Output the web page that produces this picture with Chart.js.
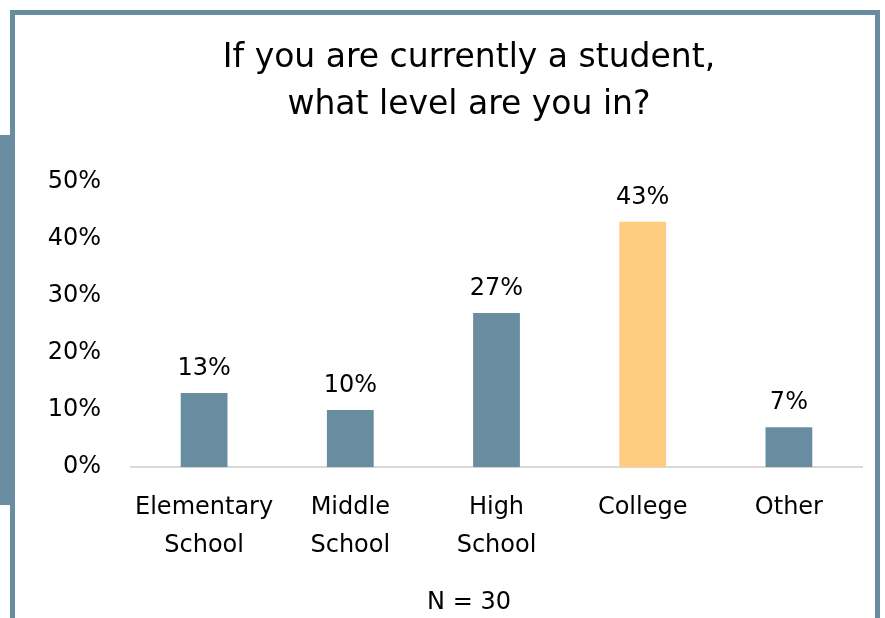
<!DOCTYPE html>
<html>
<head>
<meta charset="utf-8">
<script src="https://cdn.jsdelivr.net/npm/chart.js@4/dist/chart.umd.min.js"></script>
<style>
  html, body { margin: 0; padding: 0; background: #ffffff; overflow: hidden; }
  #wrap { position: relative; width: 885px; height: 618px; overflow: hidden; }
  .frame { position: absolute; background: #6a8ca0; z-index: 2; }
  #chart { position: absolute; left: 0; top: 0; z-index: 1; }
</style>
</head>
<body>
<div id="wrap">
  <div class="frame" style="left:10px; top:10px; width:870px; height:5px;"></div>
  <div class="frame" style="left:10px; top:10px; width:5px; height:608px;"></div>
  <div class="frame" style="left:875px; top:10px; width:5px; height:608px;"></div>
  <div class="frame" style="left:0px; top:135px; width:15px; height:370px;"></div>
  <canvas id="chart" width="898" height="618"></canvas>
</div>
<script>
// Survey: current level of students (N = 30)
const categories = [["Elementary", "School"], ["Middle", "School"], ["High", "School"], "College", "Other"];
const shares = [13, 10, 27, 43, 7];
const barColors = ["#688ca0", "#688ca0", "#688ca0", "#ffcd7f", "#688ca0"];
const titleLines = ["If you are currently a student,", "what level are you in?"];
const sampleNote = "N = 30";
const axisMax = 50;
const axisStep = 10;

const FONT = "'DejaVu Sans', sans-serif";

// Percentage labels above each bar
const valueLabels = {
  id: "valueLabels",
  afterDatasetsDraw(chart) {
    const ctx = chart.ctx;
    const meta = chart.getDatasetMeta(0);
    ctx.save();
    ctx.font = "24px " + FONT;
    ctx.fillStyle = "#000000";
    ctx.textAlign = "center";
    ctx.textBaseline = "alphabetic";
    meta.data.forEach((bar, i) => {
      const v = chart.data.datasets[0].data[i];
      ctx.fillText(Math.round(v) + "%", bar.x, bar.y - 18);
    });
    ctx.restore();
  }
};

new Chart(document.getElementById("chart"), {
  type: "bar",
  data: {
    labels: categories,
    datasets: [{
      data: shares,
      backgroundColor: barColors,
      borderWidth: 0,
      barPercentage: 0.32,
      categoryPercentage: 1.0
    }]
  },
  options: {
    responsive: false,
    animation: false,
    layout: { padding: { left: 40, right: 0, top: 0, bottom: 0 } },
    plugins: {
      legend: { display: false },
      tooltip: { enabled: false },
      title: {
        display: true,
        text: titleLines,
        color: "#000000",
        font: { family: FONT, size: 33, weight: "normal", lineHeight: 1.45 },
        padding: { top: 34, bottom: 52 }
      },
      subtitle: {
        display: true,
        position: "bottom",
        text: sampleNote,
        color: "#000000",
        font: { family: FONT, size: 24, weight: "normal", lineHeight: 1.2 },
        padding: { top: 0, bottom: 1 }
      }
    },
    scales: {
      x: {
        grid: { display: false, drawTicks: false },
        border: { display: true, color: "#d9d9d9", width: 2 },
        ticks: {
          color: "#000000",
          font: { family: FONT, size: 24, lineHeight: 1.58 },
          padding: 22,
          maxRotation: 0,
          autoSkip: false
        },
        afterFit(scale) { scale.height = 121; }
      },
      y: {
        min: 0,
        max: axisMax,
        grid: { display: false, drawTicks: false },
        border: { display: false },
        ticks: {
          stepSize: axisStep,
          color: "#000000",
          font: { family: FONT, size: 24 },
          padding: 30,
          callback: (v) => v + "%"
        },
        afterFit(scale) { scale.width = 91; }
      },
      // empty right-hand margin so the plot ends short of the frame
      gutter: {
        position: "right",
        grid: { display: false, drawTicks: false },
        border: { display: false },
        ticks: { display: false },
        afterFit(scale) { scale.width = 36; }
      }
    }
  },
  plugins: [valueLabels]
});
</script>
</body>
</html>
